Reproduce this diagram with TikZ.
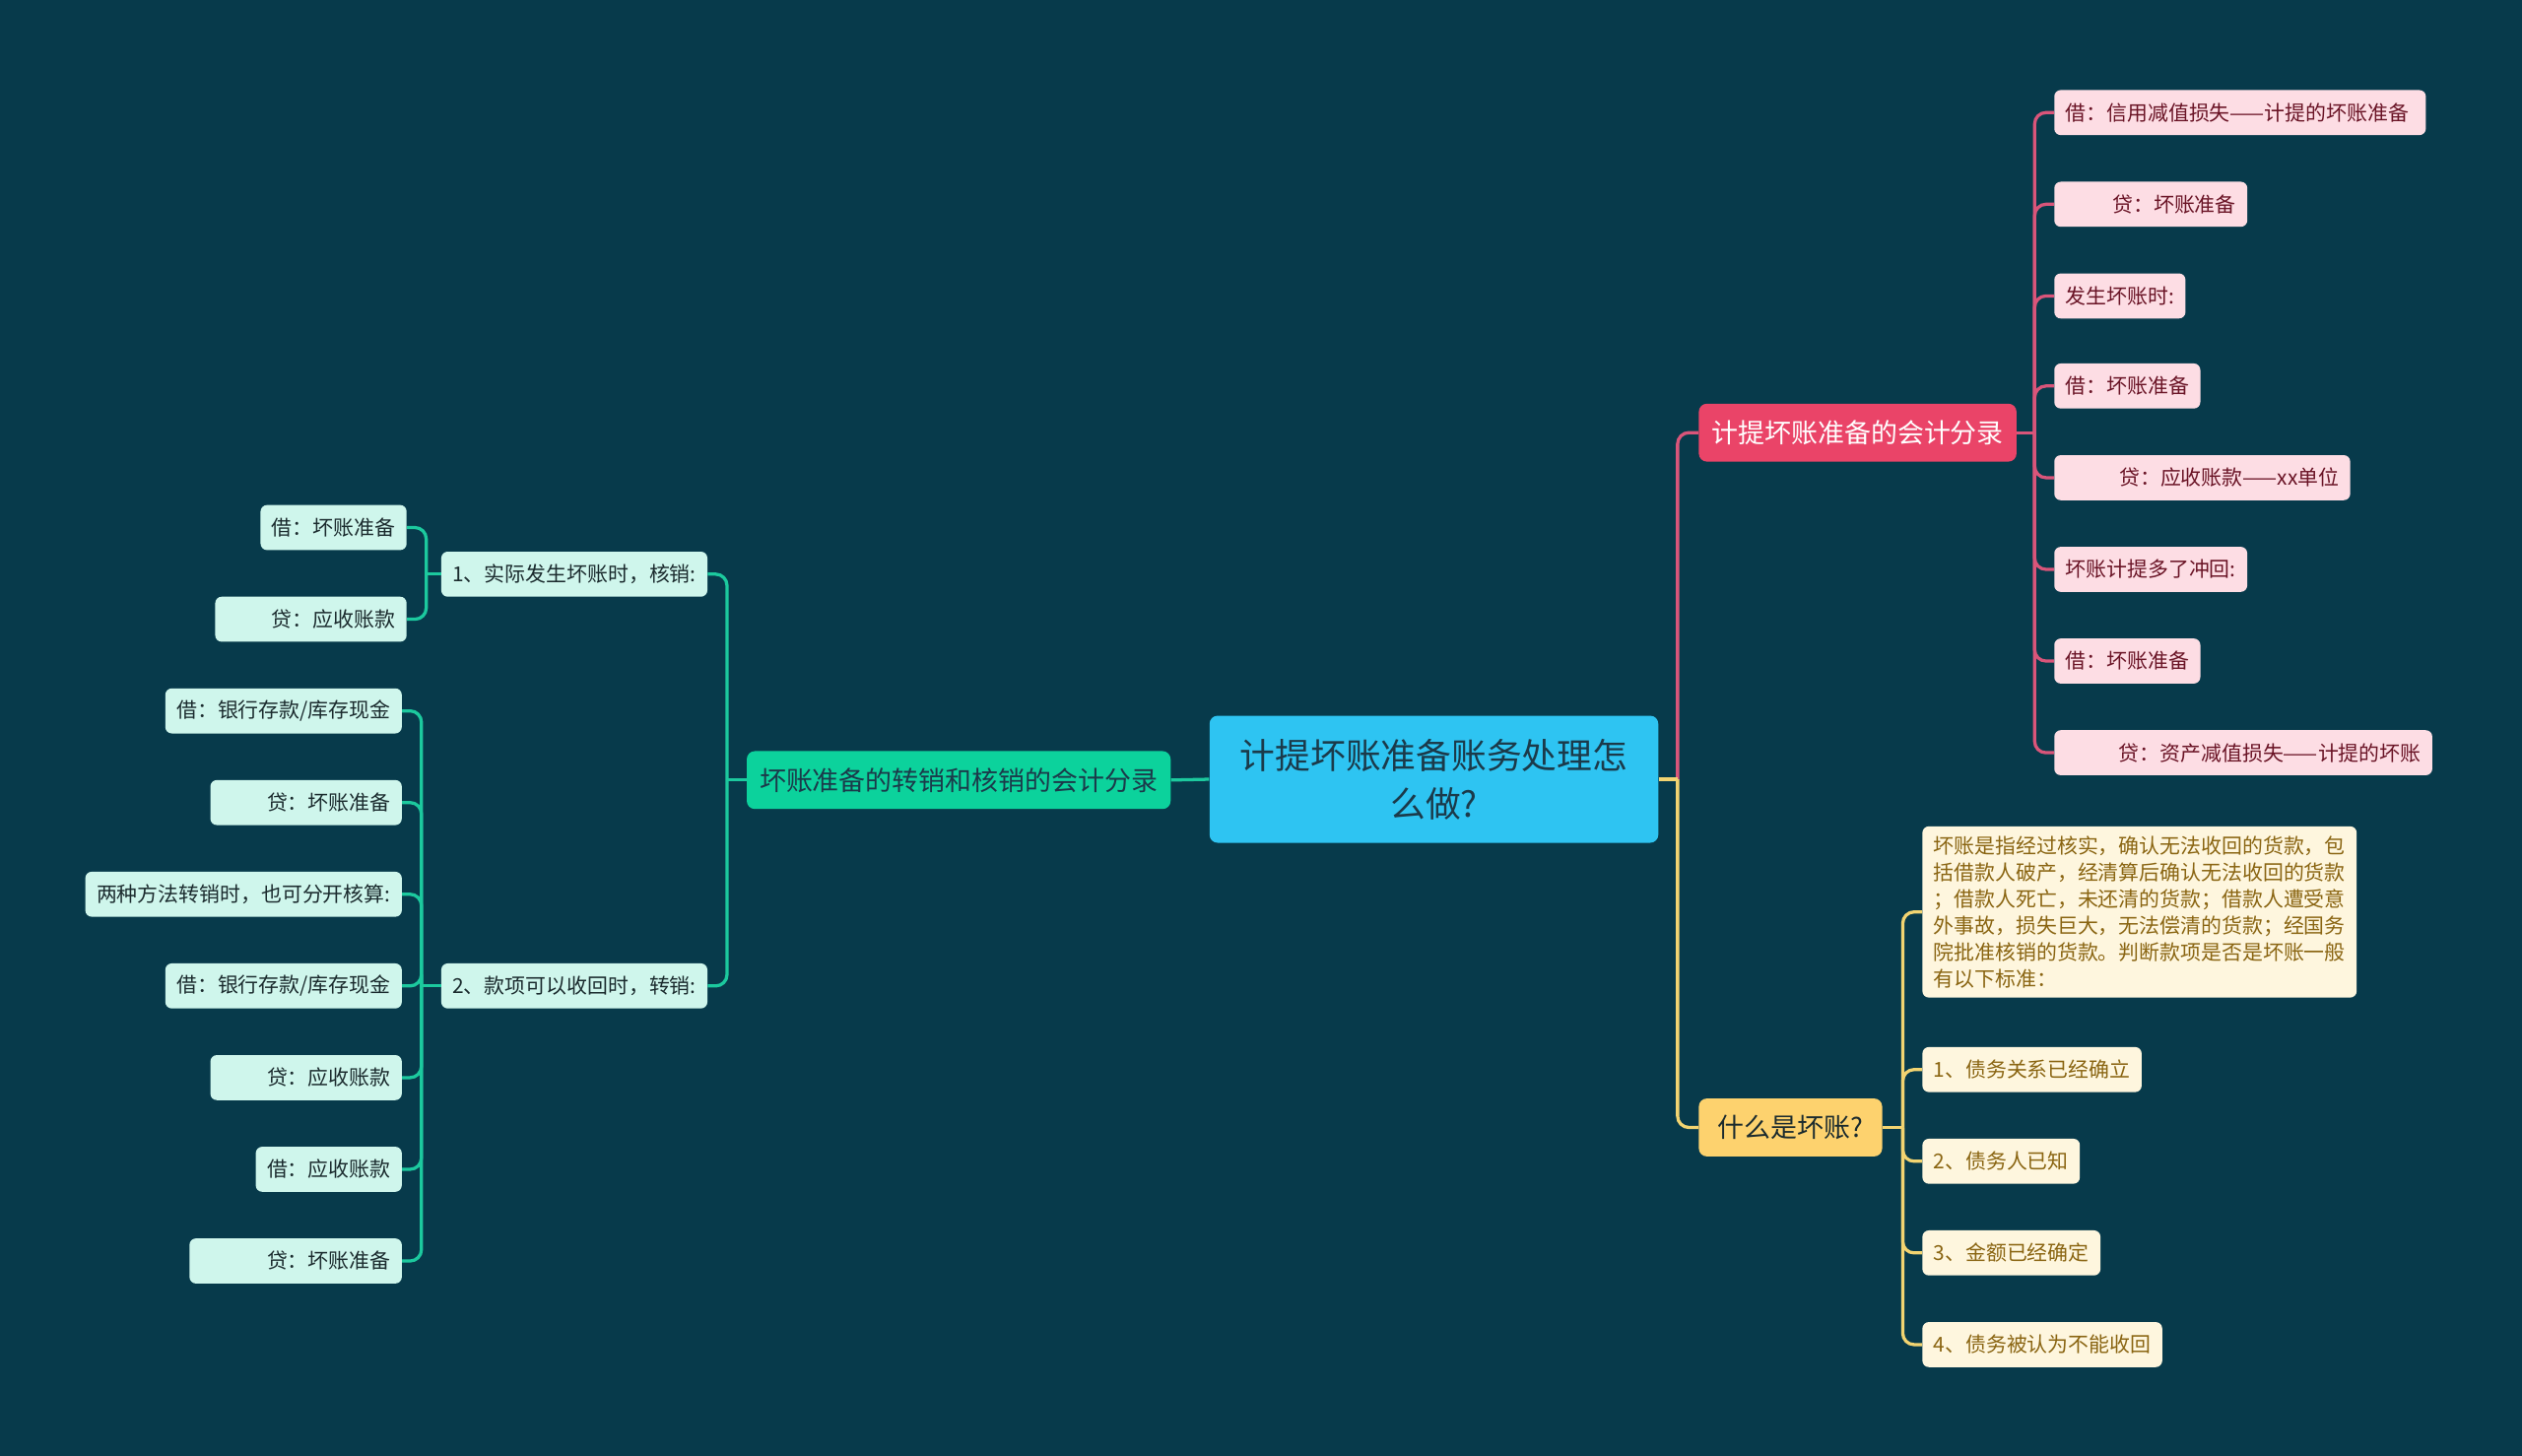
\documentclass[tikz,border=0pt]{standalone}
\usepackage{fontspec}
\setmainfont{Noto Sans CJK SC}
\usepackage{xcolor}
\usepackage{tikz}

\definecolor{bgteal}{HTML}{073A4B}
\definecolor{rootblue}{HTML}{2EC4F2}
\definecolor{roottext}{HTML}{1B3A4A}
\definecolor{pinkmain}{HTML}{EA4468}
\definecolor{pinkline}{HTML}{D9557A}
\definecolor{pinkpale}{HTML}{FDDDE4}
\definecolor{pinktext}{HTML}{6A1426}
\definecolor{greenmain}{HTML}{0CD29C}
\definecolor{greenline}{HTML}{1CC99E}
\definecolor{greenpale}{HTML}{CFF6EC}
\definecolor{greentext}{HTML}{1B2B2E}
\definecolor{goldmain}{HTML}{FDD26E}
\definecolor{goldline}{HTML}{F2D471}
\definecolor{goldpale}{HTML}{FEF6DE}
\definecolor{goldtext}{HTML}{8A6512}

\tikzset{
	leaf/.style={rounded corners=4pt, minimum height=28pt, inner xsep=7pt, inner ysep=2pt,
		font=\fontsize{12.8}{16.5}\selectfont},
	pinkleaf/.style={leaf, fill=pinkpale, text=pinktext},
	greenleaf/.style={leaf, fill=greenpale, text=greentext},
	goldleaf/.style={leaf, fill=goldpale, text=goldtext},
	branch/.style={rounded corners=5pt, minimum height=36pt, inner xsep=8pt, inner ysep=2pt,
		font=\fontsize{16.5}{20}\selectfont},
	link/.style={line width=2pt, rounded corners=7pt},
	pinklink/.style={link, draw=pinkline},
	greenlink/.style={link, draw=greenline},
	goldlink/.style={link, draw=goldline}
}

\begin{document}
\begin{tikzpicture}[x=1pt, y=-1pt]
		\fill[bgteal] (0,0) rectangle (1568,905);
		\useasboundingbox (0,0) rectangle (1568,905);

		% centre
		\node[rounded corners=5pt, fill=rootblue, text=roottext, text width=247pt, inner xsep=16pt,
			minimum height=79pt, align=center, font=\fontsize{21.9}{30}\selectfont]
			(root) at (891.5,484.5) {计提坏账准备账务处理怎\\么做?};

		% main branches
		\node[branch, fill=pinkmain, text=white, anchor=west] (pb) at (1056,269) {计提坏账准备的会计分录};
		\node[branch, fill=goldmain, text=greentext, minimum width=114pt, anchor=west] (yb) at (1056,701) {什么是坏账?};
		\node[branch, fill=greenmain, text=roottext, anchor=east] (gb) at (728,485) {坏账准备的转销和核销的会计分录};

		% pink leaves
		\node[pinkleaf, anchor=west, text width=217pt] (p1) at (1277,70) {借：信用减值损失——计提的坏账准备};
		\node[pinkleaf, anchor=west, text width=106pt, align=right] (p2) at (1277,127) {贷：坏账准备};
		\node[pinkleaf, anchor=west] (p3) at (1277,184) {发生坏账时:};
		\node[pinkleaf, anchor=west] (p4) at (1277,240) {借：坏账准备};
		\node[pinkleaf, anchor=west, text width=170pt, align=right] (p5) at (1277,297) {贷：应收账款——xx单位};
		\node[pinkleaf, anchor=west] (p6) at (1277,354) {坏账计提多了冲回:};
		\node[pinkleaf, anchor=west] (p7) at (1277,411) {借：坏账准备};
		\node[pinkleaf, anchor=west, text width=221pt, align=right] (p8) at (1277,468) {贷：资产减值损失——计提的坏账};

		% gold leaves
		\node[goldleaf, anchor=west, text width=256pt, align=left, inner ysep=6pt] (y0) at (1195,567)
			{坏账是指经过核实，确认无法收回的货款，包\\括借款人破产，经清算后确认无法收回的货款\\；借款人死亡，未还清的货款；借款人遭受意\\外事故，损失巨大，无法偿清的货款；经国务\\院批准核销的货款。判断款项是否是坏账一般\\有以下标准：};
		\node[goldleaf, anchor=west] (y1) at (1195,665) {1、债务关系已经确立};
		\node[goldleaf, anchor=west] (y2) at (1195,722) {2、债务人已知};
		\node[goldleaf, anchor=west] (y3) at (1195,779) {3、金额已经确定};
		\node[goldleaf, anchor=west] (y4) at (1195,836) {4、债务被认为不能收回};

		% green sub-branches and leaves
		\node[greenleaf, anchor=east] (s1) at (440,357) {1、实际发生坏账时，核销:};
		\node[greenleaf, anchor=east] (s2) at (440,613) {2、款项可以收回时，转销:};
		\node[greenleaf, anchor=east] (a1) at (253,328) {借：坏账准备};
		\node[greenleaf, anchor=east, text width=105pt, align=right] (a2) at (253,385) {贷：应收账款};
		\node[greenleaf, anchor=east] (b1) at (250,442) {借：银行存款/库存现金};
		\node[greenleaf, anchor=east, text width=105pt, align=right] (b2) at (250,499) {贷：坏账准备};
		\node[greenleaf, anchor=east] (b3) at (250,556) {两种方法转销时，也可分开核算:};
		\node[greenleaf, anchor=east] (b4) at (250,613) {借：银行存款/库存现金};
		\node[greenleaf, anchor=east, text width=105pt, align=right] (b5) at (250,670) {贷：应收账款};
		\node[greenleaf, anchor=east] (b6) at (250,727) {借：应收账款};
		\node[greenleaf, anchor=east, text width=118pt, align=right] (b7) at (250,784) {贷：坏账准备};

		% joints
		\coordinate (rj) at (1043,484.5);
		\coordinate (pj) at (1265,269);
		\coordinate (yj) at (1183,701);
		\coordinate (gj) at (452,485);
		\coordinate (s1j) at (265,357);
		\coordinate (s2j) at (262,613);

		% connectors
		\draw[pinklink] (rj) |- (pb.west);
		\draw[goldlink] (root.east) -- (rj);
		\draw[goldlink] (rj) |- (yb.west);
		\draw[greenlink] (root.west) -- (gb.east);

		\draw[pinklink] (pb.east) -- (pj);
		\draw[pinklink] (pj) |- (p1.west);
		\draw[pinklink] (pj) |- (p2.west);
		\draw[pinklink] (pj) |- (p3.west);
		\draw[pinklink] (pj) |- (p4.west);
		\draw[pinklink] (pj) |- (p5.west);
		\draw[pinklink] (pj) |- (p6.west);
		\draw[pinklink] (pj) |- (p7.west);
		\draw[pinklink] (pj) |- (p8.west);

		\draw[goldlink] (yb.east) -- (yj);
		\draw[goldlink] (yj) |- (y0.west);
		\draw[goldlink] (yj) |- (y1.west);
		\draw[goldlink] (yj) |- (y2.west);
		\draw[goldlink] (yj) |- (y3.west);
		\draw[goldlink] (yj) |- (y4.west);

		\draw[greenlink] (gb.west) -- (gj);
		\draw[greenlink] (gj) |- (s1.east);
		\draw[greenlink] (gj) |- (s2.east);
		\draw[greenlink] (s1.west) -- (s1j);
		\draw[greenlink] (s1j) |- (a1.east);
		\draw[greenlink] (s1j) |- (a2.east);
		\draw[greenlink] (s2.west) -- (s2j);
		\draw[greenlink] (s2j) |- (b1.east);
		\draw[greenlink] (s2j) |- (b2.east);
		\draw[greenlink] (s2j) |- (b3.east);
		\draw[greenlink] (s2j) |- (b4.east);
		\draw[greenlink] (s2j) |- (b5.east);
		\draw[greenlink] (s2j) |- (b6.east);
		\draw[greenlink] (s2j) |- (b7.east);
	\end{tikzpicture}
\end{document}
